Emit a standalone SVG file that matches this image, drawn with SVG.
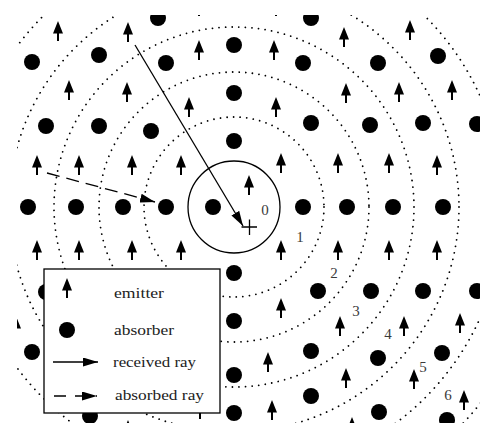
<svg xmlns="http://www.w3.org/2000/svg" xmlns:xlink="http://www.w3.org/1999/xlink" width="480" height="423" viewBox="0 0 480 423">
<style>
.dotc{fill:none;stroke:#000;stroke-width:1.8;stroke-linecap:round;stroke-dasharray:0.01 6.6}
.ray{fill:none;stroke:#000;stroke-width:1.3}
.lbl{font-family:"Liberation Serif",serif;font-size:15px;fill:#3a3a3a;text-anchor:middle}
.leg{font-family:"Liberation Serif",serif;font-size:15px;fill:#222}
</style>
<defs>
<g id="em"><path d="M0,0 L5,12.5 L-5,12.5 Z"/><rect x="-1" y="10" width="2" height="10"/></g>
<circle id="ab" r="8"/>
<marker id="head" viewBox="0 0 15 9" refX="15" refY="4.5" markerWidth="15" markerHeight="9" markerUnits="userSpaceOnUse" orient="auto"><path d="M0,0 L15,4.5 L0,9 Z"/></marker>
<clipPath id="clip"><rect x="17" y="15" width="463" height="408"/></clipPath>
</defs>
<g clip-path="url(#clip)">
<g id="circles">
<circle id="c0" cx="234" cy="207" r="46" fill="none" stroke="#000" stroke-width="1.3"/>
<circle id="c1" class="dotc" cx="234" cy="207" r="90"/>
<circle id="c2" class="dotc" cx="234" cy="207" r="135"/>
<circle id="c3" class="dotc" cx="234" cy="207" r="180"/>
<circle id="c4" class="dotc" cx="234" cy="207" r="225"/>
<circle id="c5" class="dotc" cx="234" cy="207" r="270"/>
<circle id="c6" class="dotc" cx="234" cy="207" r="315"/>
</g>
<g id="emitters">
<g id="e01"><use href="#em" x="58" y="21"/></g>
<g id="e02"><use href="#em" x="128" y="22"/></g>
<g id="e03"><use href="#em" x="199" y="-4"/></g>
<g id="e04"><use href="#em" x="276" y="-4"/></g>
<g id="e05"><use href="#em" x="344" y="27"/></g>
<g id="e06"><use href="#em" x="410" y="20"/></g>
<g id="e07"><use href="#em" x="199" y="40"/></g>
<g id="e08"><use href="#em" x="274" y="40"/></g>
<g id="e09"><use href="#em" x="69" y="80"/></g>
<g id="e10"><use href="#em" x="127" y="82"/></g>
<g id="e11"><use href="#em" x="189" y="97"/></g>
<g id="e12"><use href="#em" x="276" y="97"/></g>
<g id="e13"><use href="#em" x="346" y="83"/></g>
<g id="e14"><use href="#em" x="399" y="82"/></g>
<g id="e15"><use href="#em" x="452" y="80"/></g>
<g id="e16"><use href="#em" x="37" y="155"/></g>
<g id="e17"><use href="#em" x="79" y="155"/></g>
<g id="e18"><use href="#em" x="132" y="155"/></g>
<g id="e19"><use href="#em" x="181" y="155"/></g>
<g id="e20"><use href="#em" x="281" y="153"/></g>
<g id="e21"><use href="#em" x="338" y="153"/></g>
<g id="e22"><use href="#em" x="389" y="153"/></g>
<g id="e23"><use href="#em" x="437" y="155"/></g>
<g id="e24"><use href="#em" x="249" y="175"/></g>
<g id="e25"><use href="#em" x="37" y="240"/></g>
<g id="e26"><use href="#em" x="79" y="240"/></g>
<g id="e27"><use href="#em" x="132" y="240"/></g>
<g id="e28"><use href="#em" x="181" y="240"/></g>
<g id="e29"><use href="#em" x="281" y="240"/></g>
<g id="e30"><use href="#em" x="338" y="240"/></g>
<g id="e31"><use href="#em" x="389" y="240"/></g>
<g id="e32"><use href="#em" x="437" y="240"/></g>
<g id="e33"><use href="#em" x="281" y="298"/></g>
<g id="e34"><use href="#em" x="340" y="316"/></g>
<g id="e35"><use href="#em" x="404" y="316"/></g>
<g id="e36"><use href="#em" x="460" y="313"/></g>
<g id="e37"><use href="#em" x="16" y="316"/></g>
<g id="e38"><use href="#em" x="268" y="352"/></g>
<g id="e39"><use href="#em" x="346" y="368"/></g>
<g id="e40"><use href="#em" x="414" y="369"/></g>
<g id="e41"><use href="#em" x="464" y="390"/></g>
<g id="e42"><use href="#em" x="272" y="400"/></g>
<g id="e43"><use href="#em" x="352" y="417"/></g>
<g id="e44"><use href="#em" x="200" y="399"/></g>
<g id="e45"><use href="#em" x="128" y="420"/></g>
</g>
<g id="absorbers">
<g id="a01"><use href="#ab" x="158" y="18"/></g>
<g id="a02"><use href="#ab" x="311" y="18"/></g>
<g id="a03"><use href="#ab" x="234" y="45"/></g>
<g id="a04"><use href="#ab" x="438" y="56"/></g>
<g id="a05"><use href="#ab" x="32" y="62"/></g>
<g id="a06"><use href="#ab" x="99" y="55"/></g>
<g id="a07"><use href="#ab" x="166" y="63"/></g>
<g id="a08"><use href="#ab" x="303" y="63"/></g>
<g id="a09"><use href="#ab" x="378" y="63"/></g>
<g id="a10"><use href="#ab" x="234" y="93"/></g>
<g id="a11"><use href="#ab" x="46" y="126"/></g>
<g id="a12"><use href="#ab" x="99" y="126"/></g>
<g id="a13"><use href="#ab" x="151" y="131"/></g>
<g id="a14"><use href="#ab" x="234" y="141"/></g>
<g id="a15"><use href="#ab" x="311" y="123"/></g>
<g id="a16"><use href="#ab" x="370" y="125"/></g>
<g id="a17"><use href="#ab" x="423" y="123"/></g>
<g id="a18"><use href="#ab" x="477" y="124"/></g>
<g id="a19"><use href="#ab" x="28" y="207"/></g>
<g id="a20"><use href="#ab" x="76" y="207"/></g>
<g id="a21"><use href="#ab" x="123" y="207"/></g>
<g id="a22"><use href="#ab" x="166" y="207"/></g>
<g id="a23"><use href="#ab" x="213" y="207"/></g>
<g id="a24"><use href="#ab" x="303" y="207"/></g>
<g id="a25"><use href="#ab" x="347" y="207"/></g>
<g id="a26"><use href="#ab" x="393" y="207"/></g>
<g id="a27"><use href="#ab" x="443" y="207"/></g>
<g id="a28"><use href="#ab" x="234" y="273"/></g>
<g id="a29"><use href="#ab" x="46" y="292"/></g>
<g id="a30"><use href="#ab" x="318" y="291"/></g>
<g id="a31"><use href="#ab" x="371" y="291"/></g>
<g id="a32"><use href="#ab" x="423" y="291"/></g>
<g id="a33"><use href="#ab" x="477" y="291"/></g>
<g id="a34"><use href="#ab" x="234" y="321"/></g>
<g id="a35"><use href="#ab" x="32" y="352"/></g>
<g id="a36"><use href="#ab" x="311" y="351"/></g>
<g id="a37"><use href="#ab" x="378" y="358"/></g>
<g id="a38"><use href="#ab" x="442" y="353"/></g>
<g id="a39"><use href="#ab" x="234" y="375"/></g>
<g id="a40"><use href="#ab" x="311" y="396"/></g>
<g id="a41"><use href="#ab" x="379" y="412"/></g>
<g id="a42"><use href="#ab" x="447" y="420"/></g>
<g id="a43"><use href="#ab" x="234" y="413"/></g>
<g id="a44"><use href="#ab" x="90" y="416"/></g>
</g>
<g id="target">
<path d="M241.5,227 H257 M249.5,219.5 V235" stroke="#000" stroke-width="1.3" fill="none"/>
</g>
<g id="connectors">
<line class="ray" x1="135" y1="45" x2="243" y2="226" marker-end="url(#head)"/>
<line class="ray" x1="47" y1="173" x2="155" y2="202" stroke-dasharray="13 7" marker-end="url(#head)"/>
</g>
<g id="labels">
<text class="lbl" x="265" y="215">0</text>
<text class="lbl" x="300" y="242">1</text>
<text class="lbl" x="334" y="278">2</text>
<text class="lbl" x="356" y="316">3</text>
<text class="lbl" x="388" y="339">4</text>
<text class="lbl" x="423" y="372">5</text>
<text class="lbl" x="448" y="400">6</text>
</g>
</g>
<g id="legend">
<rect x="44" y="269" width="176" height="144" fill="#fff" stroke="#000" stroke-width="1.3"/>
<use href="#em" x="67" y="278"/>
<use href="#ab" x="67" y="330"/>
<line class="ray" x1="53" y1="362" x2="98" y2="362" marker-end="url(#head)"/>
<line class="ray" x1="54" y1="396" x2="97" y2="396" stroke-dasharray="12 9" marker-end="url(#head)"/>
<text class="leg" x="114" y="298" textLength="50" lengthAdjust="spacingAndGlyphs">emitter</text>
<text class="leg" x="114" y="335" textLength="60" lengthAdjust="spacingAndGlyphs">absorber</text>
<text class="leg" x="113" y="367" textLength="83" lengthAdjust="spacingAndGlyphs">received ray</text>
<text class="leg" x="115" y="400" textLength="89" lengthAdjust="spacingAndGlyphs">absorbed ray</text>
</g>
</svg>
